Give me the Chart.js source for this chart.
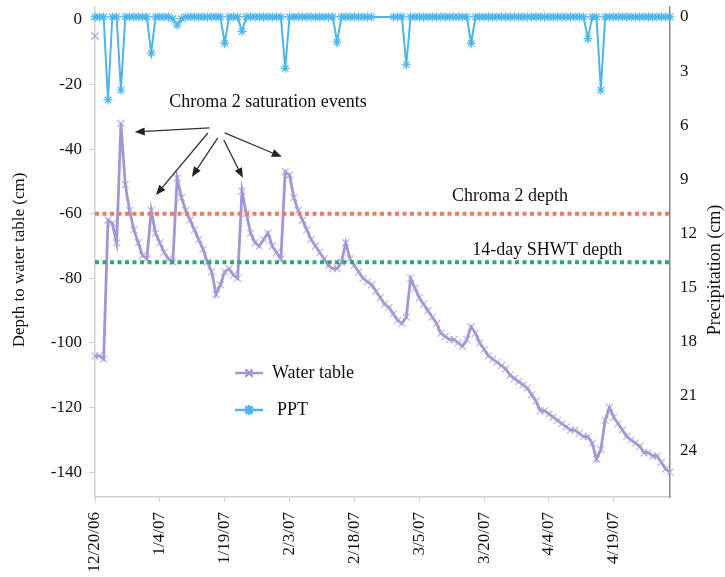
<!DOCTYPE html>
<html>
<head>
<meta charset="utf-8">
<script src="https://cdn.jsdelivr.net/npm/chart.js@4/dist/chart.umd.min.js"></script>
<style>
html, body { margin: 0; padding: 0; background: #fff; }
#wrap { width: 725px; height: 577px; }
</style>
</head>
<body>
<div id="wrap"><canvas id="chart" width="725" height="577"></canvas></div>
<script>
// daily dates, 12/20/06 - 5/2/07
const dates = [
'12/20/06','12/21/06','12/22/06','12/23/06','12/24/06','12/25/06','12/26/06','12/27/06','12/28/06','12/29/06','12/30/06','12/31/06',
'1/1/07','1/2/07','1/3/07','1/4/07','1/5/07','1/6/07','1/7/07','1/8/07','1/9/07','1/10/07','1/11/07','1/12/07','1/13/07','1/14/07','1/15/07','1/16/07',
'1/17/07','1/18/07','1/19/07','1/20/07','1/21/07','1/22/07','1/23/07','1/24/07','1/25/07','1/26/07','1/27/07','1/28/07','1/29/07','1/30/07','1/31/07',
'2/1/07','2/2/07','2/3/07','2/4/07','2/5/07','2/6/07','2/7/07','2/8/07','2/9/07','2/10/07','2/11/07','2/12/07','2/13/07','2/14/07',
'2/15/07','2/16/07','2/17/07','2/18/07','2/19/07','2/20/07','2/21/07','2/22/07','2/23/07','2/24/07','2/25/07','2/26/07','2/27/07','2/28/07',
'3/1/07','3/2/07','3/3/07','3/4/07','3/5/07','3/6/07','3/7/07','3/8/07','3/9/07','3/10/07','3/11/07','3/12/07','3/13/07','3/14/07','3/15/07','3/16/07',
'3/17/07','3/18/07','3/19/07','3/20/07','3/21/07','3/22/07','3/23/07','3/24/07','3/25/07','3/26/07','3/27/07','3/28/07','3/29/07','3/30/07','3/31/07',
'4/1/07','4/2/07','4/3/07','4/4/07','4/5/07','4/6/07','4/7/07','4/8/07','4/9/07','4/10/07','4/11/07','4/12/07','4/13/07','4/14/07','4/15/07',
'4/16/07','4/17/07','4/18/07','4/19/07','4/20/07','4/21/07','4/22/07','4/23/07','4/24/07','4/25/07','4/26/07','4/27/07','4/28/07','4/29/07','4/30/07',
'5/1/07','5/2/07'
];

// depth to water table (cm)
const waterTable = [
-104,-104,-105,-62,-63,-69,-32,-51,-59,-65,
-69,-73,-74,-59,-66,-69,-72,-74,-75,-49,
-55,-59,-62,-65,-68,-71,-75,-78,-85,-82,
-78,-77,-79,-80,-53,-60,-66,-69,-70,-68,
-66,-70,-72,-74,-47,-48,-55,-59,-62,-65,
-68,-70,-72,-74,-76,-77,-77,-75,-69,-74,
-76,-78,-80,-81,-82,-84,-86,-88,-89,-91,
-93,-94,-92,-80,-83,-86,-88,-90,-92,-94,
-97,-98,-99,-99,-100,-101,-99,-95,-97,-100,
-102,-104,-105,-106,-107,-108,-110,-111,-112,-113,
-114,-116,-118,-121,-121,-122,-123,-124,-125,-126,
-127,-127,-128,-129,-129,-131,-136,-133,-124,-120,
-123,-125,-127,-129,-130,-131,-132,-134,-134,-135,
-135,-137,-139,-140
];
const firstReading = [-5];

// precipitation (cm), null = no record
const ppt = [
0,0,0,4.6,0,0,4.05,0,0,0,
0,0,0,2.0,0,0,0,0,0.1,0.45,
0.1,0,0,0,0,0,0,0,0,0,
1.45,0,0,0,0.8,0,0,0,0,0,
0,0,0,0,2.85,0,0,0,0,0,
0,0,0,0,0,0,1.4,0,0,0,
0,0,0,0,0,null,null,null,null,0,
0,0,2.65,0,0,0,0,0,0,0,
0,0,0,0,0,0,0,1.45,0,0,
0,0,0,0,0,0,0,0,0,0,
0,0,0,0,0,0,0,0,0,0,
0,0,0,0,1.2,0,0,4.05,0,0,
0,0,0,0,0,0,0,0,0,0,
0,0,0,0
];

const chroma2Depth = -60;
const shwtDepth = -75;
const depthTicks = [0, -20, -40, -60, -80, -100, -120, -140];
const pptTicks = [0, 3, 6, 9, 12, 15, 18, 21, 24];
const dateStep = 15;

const serif = '"Liberation Serif", "Times New Roman", serif';
const purple = '#a595d4';
const purpleMark = 'rgba(170,155,215,0.8)';
const blue = '#4db5ea';

const firstDate = dates[0];
const lastDate = dates[dates.length - 1];

// text + arrows on the plot (positions in data units)
const saturationArrows = [
  { from: [26.5, -33.4], to: [9.2, -34.7] },
  { from: [26.1, -35.0], to: [14.1, -54.2] },
  { from: [28.4, -36.5], to: [22.4, -48.6] },
  { from: [29.8, -37.2], to: [34.2, -48.9] },
  { from: [30.0, -35.0], to: [43.2, -42.4] }
];

const notesPlugin = {
  id: 'notes',
  afterDatasetsDraw(chart) {
    const { ctx, chartArea, scales: { x, y } } = chart;
    ctx.save();
    ctx.fillStyle = '#111';
    ctx.font = '18px ' + serif;
    ctx.textAlign = 'center';
    ctx.textBaseline = 'middle';
    ctx.fillText('Chroma 2 saturation events', x.getPixelForValue(40), y.getPixelForValue(-25.4));
    ctx.fillText('Chroma 2 depth', x.getPixelForValue(96), y.getPixelForValue(-54.5));
    ctx.fillText('14-day SHWT depth', x.getPixelForValue(104.6), y.getPixelForValue(-71.2));

    // arrows
    ctx.strokeStyle = '#333';
    ctx.fillStyle = '#222';
    ctx.lineWidth = 1.3;
    saturationArrows.forEach(a => {
      const x0 = x.getPixelForValue(a.from[0]), y0 = y.getPixelForValue(a.from[1]);
      const x1 = x.getPixelForValue(a.to[0]), y1 = y.getPixelForValue(a.to[1]);
      const ang = Math.atan2(y1 - y0, x1 - x0);
      const len = 10, half = 4;
      const bx = x1 - len * Math.cos(ang), by = y1 - len * Math.sin(ang);
      ctx.beginPath();
      ctx.moveTo(x0, y0);
      ctx.lineTo(bx, by);
      ctx.stroke();
      ctx.beginPath();
      ctx.moveTo(x1, y1);
      ctx.lineTo(bx + half * Math.sin(ang), by - half * Math.cos(ang));
      ctx.lineTo(bx - half * Math.sin(ang), by + half * Math.cos(ang));
      ctx.closePath();
      ctx.fill();
    });

    // legend
    const lx = chartArea.left + 140, lw = 28;
    const items = [
      { text: 'Water table', color: purple, style: 'crossRot', y: 373, tx: 272 },
      { text: 'PPT', color: blue, style: 'star', y: 410, tx: 277 }
    ];
    items.forEach(it => {
      ctx.strokeStyle = it.color;
      ctx.lineWidth = 2.5;
      ctx.beginPath();
      ctx.moveTo(lx, it.y);
      ctx.lineTo(lx + lw, it.y);
      ctx.stroke();
      Chart.helpers.drawPoint(ctx, { pointStyle: it.style, radius: 5, borderWidth: 1.2 }, lx + lw / 2, it.y);
      ctx.fillStyle = '#111';
      ctx.font = '18px ' + serif;
      ctx.textAlign = 'left';
      ctx.fillText(it.text, it.tx, it.y);
    });

    // axis titles (both read bottom to top)
    ctx.font = '17px ' + serif;
    ctx.textAlign = 'center';
    ctx.save();
    ctx.translate(20, 260);
    ctx.rotate(-Math.PI / 2);
    ctx.fillText('Depth to water table (cm)', 0, 0);
    ctx.restore();
    ctx.font = '18px ' + serif;
    ctx.save();
    ctx.translate(715, 270);
    ctx.rotate(-Math.PI / 2);
    ctx.fillText('Precipitation (cm)', 0, 0);
    ctx.restore();
    ctx.restore();
  }
};

new Chart(document.getElementById('chart'), {
  type: 'line',
  data: {
    labels: dates,
    datasets: [
      {
        label: 'Chroma 2 depth',
        data: [{ x: firstDate, y: chroma2Depth }, { x: lastDate, y: chroma2Depth }],
        yAxisID: 'y',
        borderColor: '#f7766b',
        borderWidth: 4,
        borderDash: [4, 3.5],
        borderCapStyle: 'butt',
        pointRadius: 0
      },
      {
        label: '14-day SHWT depth',
        data: [{ x: firstDate, y: shwtDepth }, { x: lastDate, y: shwtDepth }],
        yAxisID: 'y',
        borderColor: '#35a374',
        borderWidth: 4,
        borderDash: [4, 3.5],
        borderCapStyle: 'butt',
        pointRadius: 0
      },
      {
        label: 'Water table',
        data: waterTable,
        yAxisID: 'y',
        borderColor: purple,
        borderWidth: 2.8,
        pointStyle: 'crossRot',
        pointRadius: 5,
        pointBorderWidth: 1.1,
        pointBorderColor: purpleMark,
        pointBackgroundColor: purpleMark,
        tension: 0
      },
      {
        label: 'first reading',
        data: firstReading,
        yAxisID: 'y',
        showLine: false,
        pointStyle: 'crossRot',
        pointRadius: 5,
        pointBorderWidth: 1.5,
        pointBorderColor: purpleMark
      },
      {
        label: 'PPT',
        data: ppt,
        yAxisID: 'y2',
        borderColor: blue,
        borderWidth: 2,
        spanGaps: true,
        segment: {
          borderWidth: c => (c.p1DataIndex - c.p0DataIndex > 1 ? 1 : undefined),
          borderColor: c => (c.p1DataIndex - c.p0DataIndex > 1 ? '#9fd6f2' : undefined)
        },
        pointStyle: 'star',
        pointRadius: 4.5,
        pointBorderWidth: 1.2,
        pointBorderColor: blue,
        pointBackgroundColor: blue,
        tension: 0
      }
    ]
  },
  options: {
    responsive: false,
    animation: false,
    layout: { padding: { top: 7, left: 0, right: 0, bottom: 0 } },
    plugins: { legend: { display: false }, tooltip: { enabled: false } },
    scales: {
      x: {
        type: 'category',
        afterBuildTicks: s => { s.ticks = s.ticks.filter(t => t.value % dateStep === 0); },
        afterFit: s => { s.height = 80; s.paddingLeft = 0; s.paddingRight = 0; },
        ticks: {
          autoSkip: false,
          minRotation: 90,
          maxRotation: 90,
          padding: 10,
          color: '#111',
          font: { family: serif, size: 17 }
        },
        grid: { drawOnChartArea: false, tickLength: 5, color: '#cfcfd6' },
        border: { color: '#d3d0de', width: 1.5 }
      },
      y: {
        position: 'left',
        min: -147.7,
        max: 4,
        afterBuildTicks: s => { s.ticks = depthTicks.map(v => ({ value: v })); },
        afterFit: s => { s.width = 95; s.paddingTop = 0; s.paddingBottom = 0; },
        ticks: { padding: 7, color: '#111', font: { family: serif, size: 17 } },
        grid: { drawOnChartArea: false, tickLength: 6, color: '#cfcfd6' },
        border: { color: '#d3d0de', width: 1.5 }
      },
      y2: {
        position: 'right',
        reverse: true,
        min: -0.55,
        max: 26.6,
        afterBuildTicks: s => { s.ticks = pptTicks.map(v => ({ value: v })); },
        afterFit: s => { s.width = 55; s.paddingTop = 0; s.paddingBottom = 0; },
        ticks: { padding: 10, color: '#111', font: { family: serif, size: 17 } },
        grid: { drawOnChartArea: false, drawTicks: false },
        border: { color: '#8c8c8c', width: 1.5 }
      }
    }
  },
  plugins: [notesPlugin]
});
</script>
</body>
</html>
